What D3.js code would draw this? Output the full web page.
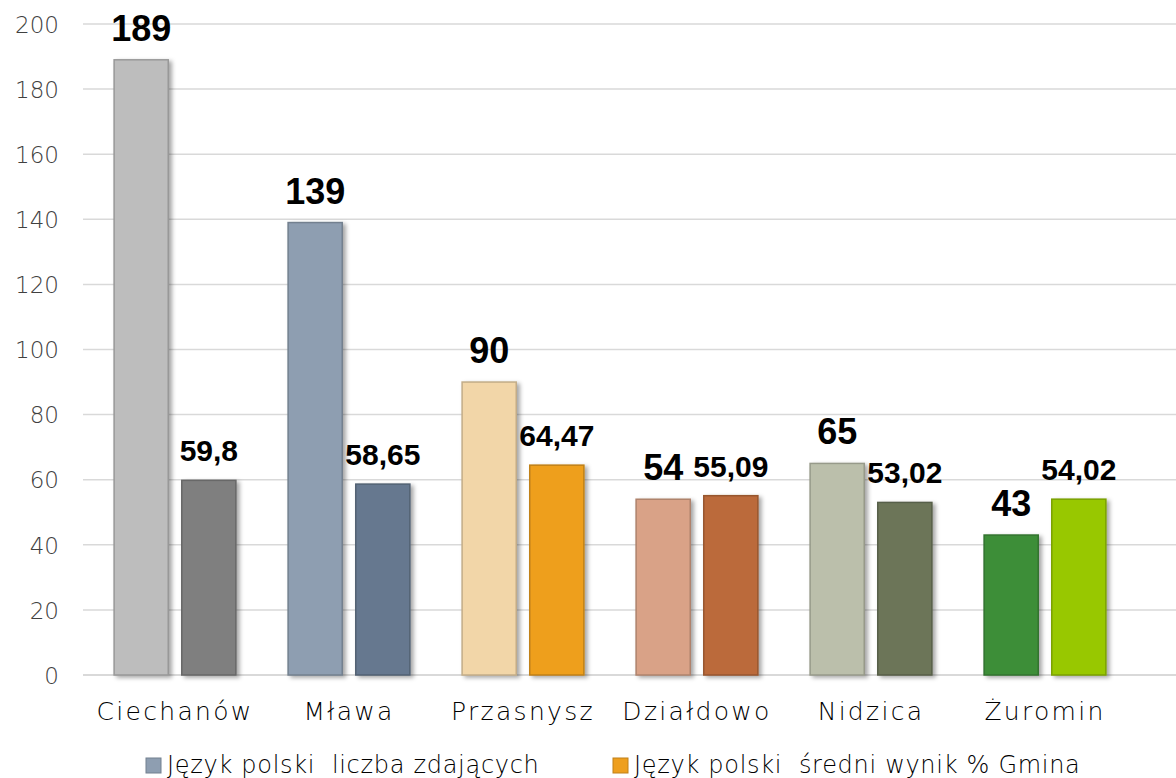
<!DOCTYPE html>
<html><head><meta charset="utf-8">
<script src="https://cdn.jsdelivr.net/npm/d3@7"></script>
<style>
html,body{margin:0;padding:0;background:#fff;}
svg{display:block;}
</style></head>
<body><svg id="chart" width="1176" height="778"></svg>
<script>
const categories = ["Ciechanów","Mława","Przasnysz","Działdowo","Nidzica","Żuromin"];
const seriesNames = ["Język polski  liczba zdających","Język polski  średni wynik % Gmina"];
const countValues = [189,139,90,54,65,43];
const scoreValues = [59.8,58.65,64.47,55.09,53.02,54.02];
const scoreLabels = ["59,8","58,65","64,47","55,09","53,02","54,02"];
const yTicks = [0,20,40,60,80,100,120,140,160,180,200];
const countColors = ["#BDBDBD","#8E9EB1","#F2D6A8","#D9A287","#BBBFAB","#3E8E39"];
const scoreColors = ["#7F7F7F","#66788F","#EE9F1E","#BB6A3A","#6C7559","#98C800"];
const legendColors = ["#8E9EB1","#EE9F1E"];

const svg = d3.select("#chart");
const plotLeft = 83, plotRight = 1176, yTop = 24, yBottom = 675;
const textFont = "'DejaVu Sans', 'Open Sans', sans-serif";

const defs = svg.append("defs");
const f = defs.append("filter").attr("id","shadow").attr("x","-20%").attr("y","-10%").attr("width","150%").attr("height","130%");
f.append("feDropShadow").attr("dx",3).attr("dy",2).attr("stdDeviation",2).attr("flood-color","#000").attr("flood-opacity",0.35);

const y = d3.scaleLinear().domain([0,200]).range([yBottom,yTop]);
const x0 = d3.scaleBand().domain(categories).range([88,1132]).paddingInner(0.3).paddingOuter(0.15);
const x1 = d3.scaleBand().domain([0,1]).range([0,x0.bandwidth()]).paddingInner(0.2).paddingOuter(0);

// gridlines
svg.append("g").selectAll("line").data(yTicks).join("line")
  .attr("x1",plotLeft).attr("x2",plotRight)
  .attr("y1",d=>y(d)).attr("y2",d=>y(d))
  .attr("stroke","#D9D9D9").attr("stroke-width",d=>d===0?2:1.5);

// y axis labels
const yAxis = d3.axisLeft(y).tickValues(yTicks).tickSize(0).tickPadding(0);
const gy = svg.append("g").attr("transform",`translate(59,0)`).call(yAxis);
gy.select(".domain").remove();
gy.selectAll("text").attr("font-family",textFont).attr("font-weight",200)
  .attr("font-size",23).attr("fill","#404040").attr("dy","0.36em");

// x axis labels
const xAxis = d3.axisBottom(x0).tickSize(0).tickPadding(0);
const gx = svg.append("g").attr("transform",`translate(0,${yBottom})`).call(xAxis);
gx.select(".domain").remove();
gx.selectAll("text").attr("font-family",textFont).attr("font-weight",200)
  .attr("font-size",25).attr("letter-spacing",2.3).attr("fill","#000").attr("dy",0).attr("y",45);

// bars
const groups = svg.append("g").selectAll("g").data(categories).join("g")
  .attr("transform",d=>`translate(${x0(d)},0)`);

groups.append("rect")
  .attr("x",x1(0)).attr("width",x1.bandwidth())
  .attr("y",(d,i)=>y(countValues[i])).attr("height",(d,i)=>y(0)-y(countValues[i]))
  .attr("fill",(d,i)=>countColors[i])
  .attr("stroke",(d,i)=>d3.color(countColors[i]).darker(0.6))
  .attr("stroke-width",1.5).attr("filter","url(#shadow)");
groups.append("rect")
  .attr("x",x1(1)).attr("width",x1.bandwidth())
  .attr("y",(d,i)=>y(scoreValues[i])).attr("height",(d,i)=>y(0)-y(scoreValues[i]))
  .attr("fill",(d,i)=>scoreColors[i])
  .attr("stroke",(d,i)=>d3.color(scoreColors[i]).darker(0.6))
  .attr("stroke-width",1.5).attr("filter","url(#shadow)");

// value labels
groups.append("text")
  .attr("x",x1(0)+x1.bandwidth()/2).attr("y",(d,i)=>y(countValues[i])-19)
  .attr("text-anchor","middle").attr("font-family","'Liberation Sans', Arial, sans-serif")
  .attr("font-weight","bold").attr("font-size",36).attr("fill","#000")
  .text((d,i)=>countValues[i]);
groups.append("text")
  .attr("x",x1(1)+x1.bandwidth()/2).attr("y",(d,i)=>y(scoreValues[i])-19)
  .attr("text-anchor","middle").attr("font-family","'Liberation Sans', Arial, sans-serif")
  .attr("font-weight","bold").attr("font-size",30).attr("fill","#000")
  .text((d,i)=>scoreLabels[i]);

// legend
const legendX = [146, 613];
const lg = svg.append("g").selectAll("g").data(seriesNames).join("g")
  .attr("transform",(d,i)=>`translate(${legendX[i]},758)`);
lg.append("rect").attr("width",15).attr("height",15)
  .attr("fill",(d,i)=>legendColors[i])
  .attr("stroke",(d,i)=>d3.color(legendColors[i]).darker(0.6)).attr("stroke-width",1);
lg.append("text").attr("x",21).attr("y",15)
  .style("white-space","pre")
  .attr("font-family",textFont).attr("font-weight",200)
  .attr("font-size",24).attr("letter-spacing",0.7).attr("fill","#000").text(d=>d);
</script></body></html>
